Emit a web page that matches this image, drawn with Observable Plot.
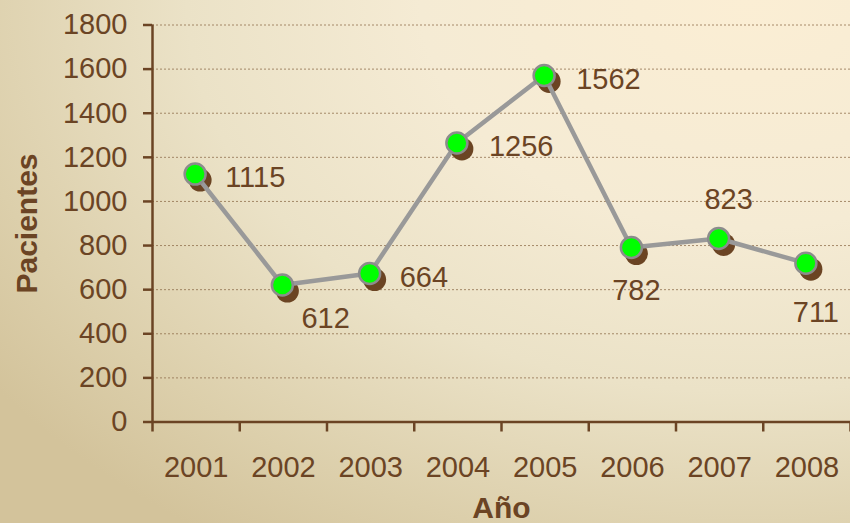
<!DOCTYPE html>
<html>
<head>
<meta charset="utf-8">
<script src="https://cdn.jsdelivr.net/npm/d3@7"></script>
<script src="https://cdn.jsdelivr.net/npm/@observablehq/plot@0.6"></script>
<style>
  html, body { margin: 0; padding: 0; }
  body {
    width: 850px; height: 523px; overflow: hidden;
    background: radial-gradient(ellipse 110% 125% at 88% 0%, #fbeed4 0%, #f5ebd4 35%, #ebe2c7 60%, #dccfab 85%, #d3c39b 100%);
  }
  #chart svg { display: block; }
</style>
</head>
<body>
<div id="chart"></div>
<script>
// ---- data ----
const years = [2001, 2002, 2003, 2004, 2005, 2006, 2007, 2008];
const patients = [1115, 612, 664, 1256, 1562, 782, 823, 711];
const yTicks = [0, 200, 400, 600, 800, 1000, 1200, 1400, 1600, 1800];
const xTitle = "Año";
const yTitle = "Pacientes";

// ---- layout / styles ----
const brown = "#6b4424";
const data = years.map((year, i) => ({year, value: patients[i]}));
const tickBounds = years.map(y => y - 0.5).concat([years[years.length - 1] + 0.5]);
// label placement per year: [dx, dy, anchor]
const labelPlace = {
  2001: [29, 2, "start"],
  2002: [18, 32, "start"],
  2003: [29, 2, "start"],
  2004: [31, 2, "start"],
  2005: [31, 2, "start"],
  2006: [4, 41, "middle"],
  2007: [9, -41, "middle"],
  2008: [9, 48, "middle"]
};

const labelMarks = data.map(d => {
  const [dx, dy, anchor] = labelPlace[d.year];
  return Plot.text([d], {
    x: "year", y: "value", text: v => String(v.value),
    dx, dy, textAnchor: anchor, fill: brown, fontSize: 29,
    lineAnchor: "middle"
  });
});

const chart = Plot.plot({
  width: 850,
  height: 523,
  marginLeft: 152,
  marginRight: 0,
  marginTop: 24.5,
  marginBottom: 101.5,
  x: {domain: [tickBounds[0], tickBounds[tickBounds.length - 1]]},
  y: {domain: [0, 1800]},
  style: {
    background: "transparent",
    fontFamily: "'Liberation Sans', Arial, sans-serif",
    fontSize: "29px",
    color: brown,
    overflow: "visible"
  },
  marks: [
    Plot.gridY(yTicks.filter(t => t > 0), {stroke: "#8b6a47", strokeOpacity: 0.75, strokeDasharray: "2,2", strokeWidth: 1}),
    Plot.axisY(yTicks, {tickSize: 9, tickPadding: 16, stroke: brown, strokeWidth: 2.5, fill: brown, fontSize: 29, label: null, tickFormat: d => String(d)}),
    Plot.axisX(tickBounds, {tickSize: 10, stroke: brown, strokeWidth: 2.5, tickFormat: () => "", label: null}),
    Plot.axisX(years, {tickSize: 0, tickPadding: 34, fill: brown, fontSize: 29, label: null, tickFormat: d => String(d)}),
    Plot.ruleX([tickBounds[0]], {y1: 0, y2: 1800, stroke: brown, strokeWidth: 2.5}),
    Plot.ruleY([0], {stroke: brown, strokeWidth: 2.5}),
    Plot.dot(data, {x: "year", y: "value", r: 11.5, fill: "#6b4423", stroke: "none", dx: 4, dy: 4}),
    Plot.line(data, {x: "year", y: "value", stroke: "#999999", strokeWidth: 4.5, dx: -1, dy: -2}),
    Plot.dot(data, {x: "year", y: "value", r: 10.5, fill: "#00ff00", stroke: "#8c8c8c", strokeWidth: 2.5, dx: -1, dy: -2}),
    ...labelMarks,
    Plot.text([xTitle], {frameAnchor: "bottom", dy: 86, fill: brown, fontSize: 30, fontWeight: "bold", lineAnchor: "middle"}),
    Plot.text([yTitle], {frameAnchor: "left", dx: -125, rotate: -90, textAnchor: "middle", fill: brown, fontSize: 30, fontWeight: "bold", lineAnchor: "middle"})
  ]
});
document.getElementById("chart").appendChild(chart);
</script>
</body>
</html>
